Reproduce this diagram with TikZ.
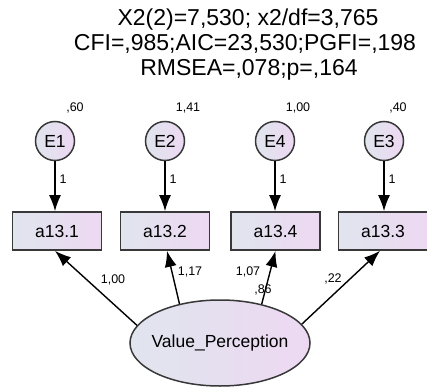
\documentclass[tikz,border=0pt]{standalone}
\usepackage{fontspec}
\setmainfont{Liberation Sans}
\usetikzlibrary{arrows.meta,shapes.geometric,calc}
\definecolor{fillL}{HTML}{E0E5EE}
\definecolor{fillR}{HTML}{EDD8F2}
\definecolor{edgegray}{HTML}{383838}
\begin{document}
\begin{tikzpicture}[x=1pt,y=-1pt,
  obs/.style={draw=edgegray, line width=1.7pt, left color=fillL, right color=fillR,
    minimum width=89pt, minimum height=38pt, inner sep=0pt,
    font=\fontsize{17.5}{20}\selectfont},
  err/.style={circle, draw=edgegray, line width=1.5pt, left color=fillL, right color=fillR,
    minimum size=39pt, inner sep=0pt, font=\fontsize{17.5}{20}\selectfont},
  lat/.style={ellipse, draw=edgegray, line width=1.5pt, left color=fillL, right color=fillR,
    minimum width=180pt, minimum height=86pt, inner xsep=-20pt, inner ysep=0pt,
    font=\fontsize{17.5}{20}\selectfont},
  fitline/.style={font=\fontsize{23}{25}\selectfont, anchor=base, inner sep=0pt},
  num/.style={font=\fontsize{12.5}{14}\selectfont, inner sep=0pt},
  reg/.style={line width=1.4pt, -{Latex[length=16pt,width=12pt]}}
]
\useasboundingbox[fill=white] (0,0) rectangle (427,387);

% fit statistics
\node[fitline] (f1) at (248,26) {X2(2)=7,530; x2/df=3,765};
\node[fitline] (f2) at (245,51) {CFI=,985;AIC=23,530;PGFI=,198};
\node[fitline] (f3) at (249,76) {RMSEA=,078;p=,164};

% error terms
\node[err] (e1) at (55,141) {E1};
\node[err] (e2) at (165,141) {E2};
\node[err] (e4) at (275,141) {E4};
\node[err] (e3) at (384,141) {E3};

% error variances
\node[num] (v1) at (75,108) {,60};
\node[num] (v2) at (188,108) {1,41};
\node[num] (v4) at (298,108) {1,00};
\node[num] (v3) at (398,108) {,40};

% observed indicators
\node[obs] (b1) at (57,231) {a13.1};
\node[obs] (b2) at (165,231) {a13.2};
\node[obs] (b4) at (275.5,231) {a13.4};
\node[obs] (b3) at (383,231) {a13.3};

% latent factor
\node[lat] (vp) at (220,343) {Value\_Perception};

% error paths
\draw[reg] (e1) -- (b1.north -| e1) node[num, pos=0.35, right=4pt] (w1) {1};
\draw[reg] (e2) -- (b2.north -| e2) node[num, pos=0.35, right=4pt] (w2) {1};
\draw[reg] (e4) -- (b4.north -| e4) node[num, pos=0.35, right=4pt] (w4) {1};
\draw[reg] (e3) -- (b3.north -| e3) node[num, pos=0.35, right=4pt] (w3) {1};

% factor loadings
\draw[reg] (vp.168) -- ([xshift=-2pt]b1.south);
\draw[reg] (vp.136) -- ([xshift=2pt]b2.south);
\draw[reg] (vp.43) -- (b4.south);
\draw[reg] (vp.13.5) -- ([xshift=-3pt]b3.south);

\node[num] (l1) at (113,280) {1,00};
\node[num] (l2) at (190,272) {1,17};
\node[num] (l4) at (248,272) {1,07};
\node[num] (l3) at (333,279) {,22};
\node[num] (vv) at (263,290) {,86};
\end{tikzpicture}
\end{document}
